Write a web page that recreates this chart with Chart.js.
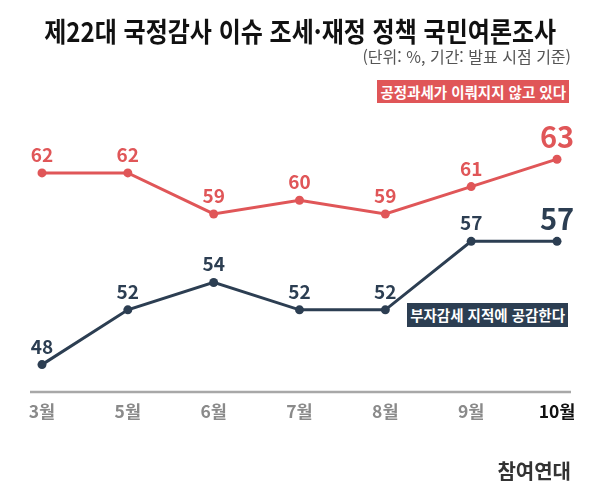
<!DOCTYPE html>
<html lang="ko">
<head>
<meta charset="utf-8">
<script src="https://cdn.jsdelivr.net/npm/chart.js@4/dist/chart.umd.min.js"></script>
<style>
  html, body { margin: 0; padding: 0; background: #fff; }
  body { width: 600px; height: 502px; position: relative; overflow: hidden;
         font-family: "Noto Sans CJK KR", "Noto Sans", sans-serif; }
  #chart-wrap { position: absolute; left: 0; top: 0; width: 600px; height: 502px; }
  .title { position: absolute; left: 0; width: 600px; top: 13px; text-align: center;
           font-size: 27px; font-weight: 700; color: #111; line-height: 36px;
           transform: scaleX(0.89); transform-origin: 302px 0; white-space: nowrap; }
  .sub { position: absolute; right: 29px; top: 46px; font-size: 16px; color: #555;
         line-height: 20px; white-space: nowrap; }
  .tag { position: absolute; color: #fff; font-size: 14.5px; font-weight: 700;
         line-height: 23px; height: 23px; padding: 0 3px; white-space: nowrap; }
  .tag.red { background: #e05658; right: 31px; top: 80px; }
  .tag.navy { background: #2c3e52; right: 32px; top: 303px; height: 24px; line-height: 24px; }
  .source { position: absolute; right: 29px; top: 456px; font-size: 20px; font-weight: 700;
            color: #333; line-height: 30px; }
</style>
</head>
<body>
<div id="chart-wrap"><canvas id="chart" width="600" height="502"></canvas></div>
<div class="title">제22대 국정감사 이슈 조세·재정 정책 국민여론조사</div>
<div class="sub">(단위: %, 기간: 발표 시점 기준)</div>
<div class="tag red">공정과세가 이뤄지지 않고 있다</div>
<div class="tag navy">부자감세 지적에 공감한다</div>
<div class="source">참여연대</div>
<script>
const months = ['3월', '5월', '6월', '7월', '8월', '9월', '10월'];
const unfairTax = [62, 62, 59, 60, 59, 61, 63];
const wealthTaxCut = [48, 52, 54, 52, 52, 57, 57];

const RED = '#e05658', NAVY = '#2c3e52';
const FONT = '"Noto Sans CJK KR", "Noto Sans", sans-serif';

// numbers above each point, last one bigger
const valueLabels = {
    id: 'valueLabels',
    afterDatasetsDraw(chart) {
        const ctx = chart.ctx;
        chart.data.datasets.forEach((ds, i) => {
            const meta = chart.getDatasetMeta(i);
            meta.data.forEach((pt, j) => {
                const last = j === meta.data.length - 1;
                ctx.save();
                ctx.fillStyle = ds.borderColor;
                ctx.textAlign = 'center';
                ctx.textBaseline = 'alphabetic';
                ctx.font = `700 ${last ? 29 : 19}px ${FONT}`;
                ctx.fillText(ds.data[j], pt.x, pt.y - 11);
                ctx.restore();
            });
        });
    }
};

// gray baseline, a bit wider than the plot area
const baseLine = {
    id: 'baseLine',
    beforeDatasetsDraw(chart) {
        const { ctx, chartArea } = chart;
        ctx.save();
        ctx.strokeStyle = '#a8a8a8';
        ctx.lineWidth = 2.5;
        ctx.beginPath();
        ctx.moveTo(chartArea.left - 12, chartArea.bottom);
        ctx.lineTo(chartArea.right + 14, chartArea.bottom);
        ctx.stroke();
        ctx.restore();
    }
};

new Chart(document.getElementById('chart').getContext('2d'), {
    type: 'line',
    data: {
        labels: months,
        datasets: [{
            label: '공정과세가 이뤄지지 않고 있다',
            data: unfairTax,
            borderColor: RED,
            backgroundColor: RED,
            pointBackgroundColor: RED,
            borderWidth: 3,
            pointRadius: 4.5,
            pointBorderWidth: 0,
            clip: false
        }, {
            label: '부자감세 지적에 공감한다',
            data: wealthTaxCut,
            borderColor: NAVY,
            backgroundColor: NAVY,
            pointBackgroundColor: NAVY,
            borderWidth: 3,
            pointRadius: 4.5,
            pointBorderWidth: 0,
            clip: false
        }]
    },
    options: {
        responsive: false,
        animation: false,
        layout: { padding: { left: 42, right: 43, top: 145.5, bottom: 0 } },
        plugins: { legend: { display: false }, tooltip: { enabled: false } },
        scales: {
            x: {
                offset: false,
                grid: { display: false, drawTicks: false },
                border: { display: false },
                ticks: {
                    padding: 9,
                    font: { family: FONT, size: 17.5, weight: '700' },
                    color: ctx => ctx.index === months.length - 1 ? '#111' : '#8a8a8a'
                },
                afterFit: s => { s.height = 110; }
            },
            y: { display: false, min: 46, max: 64 }
        }
    },
    plugins: [baseLine, valueLabels]
});
</script>
</body>
</html>
